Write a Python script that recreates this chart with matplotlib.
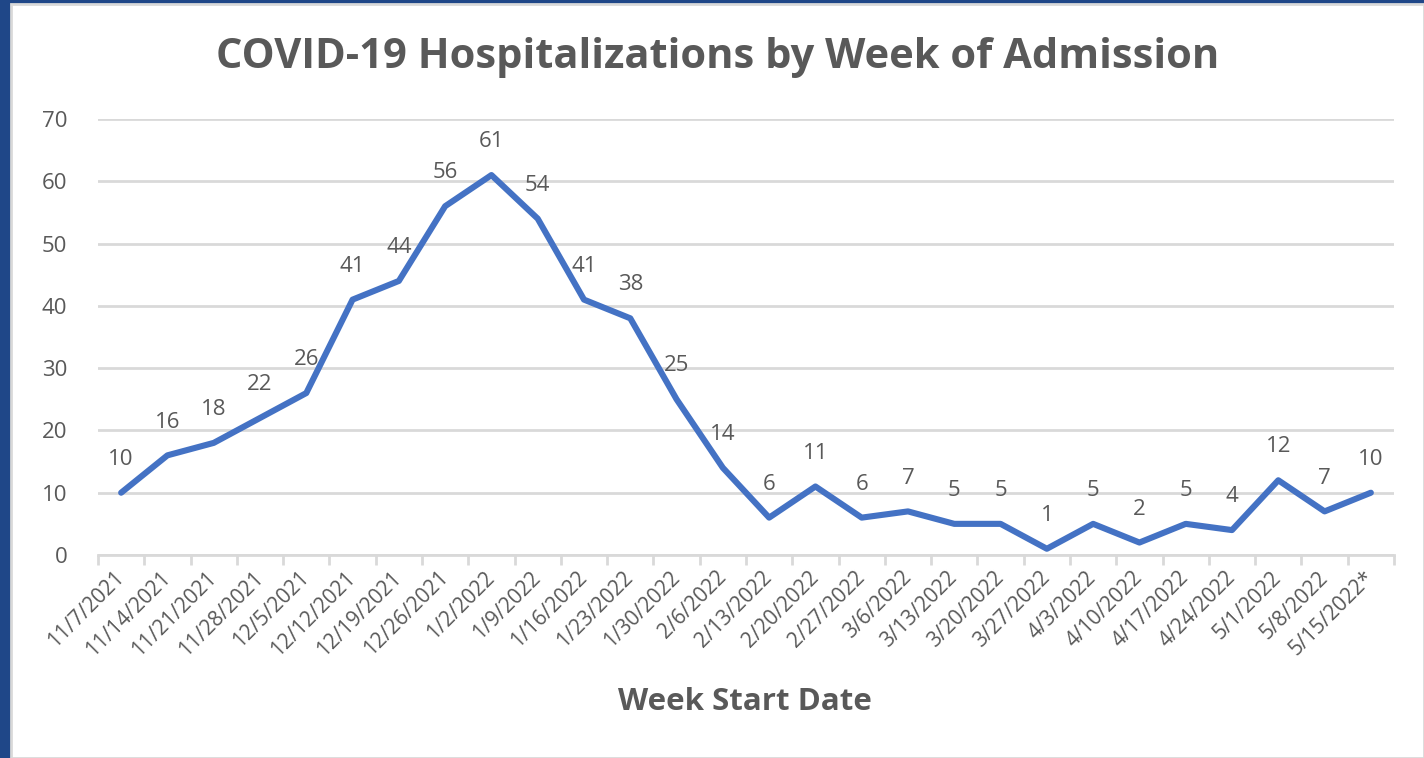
import matplotlib
matplotlib.use("Agg")
import matplotlib.pyplot as plt
from matplotlib.patches import Rectangle

weeks = ["11/7/2021", "11/14/2021", "11/21/2021", "11/28/2021", "12/5/2021",
         "12/12/2021", "12/19/2021", "12/26/2021", "1/2/2022", "1/9/2022",
         "1/16/2022", "1/23/2022", "1/30/2022", "2/6/2022", "2/13/2022",
         "2/20/2022", "2/27/2022", "3/6/2022", "3/13/2022", "3/20/2022",
         "3/27/2022", "4/3/2022", "4/10/2022", "4/17/2022", "4/24/2022",
         "5/1/2022", "5/8/2022", "5/15/2022*"]
hospitalizations = [10, 16, 18, 22, 26, 41, 44, 56, 61, 54, 41, 38, 25, 14,
                    6, 11, 6, 7, 5, 5, 1, 5, 2, 5, 4, 12, 7, 10]
y_ticks = [0, 10, 20, 30, 40, 50, 60, 70]

plt.rcParams['font.family'] = ['Open Sans', 'DejaVu Sans']
TXT = '#595959'
GRID = '#D9D9D9'
LINE = '#4472C4'

W, H = 1424, 758
fig = plt.figure(figsize=(W / 100, H / 100), dpi=100)
fig.patch.set_facecolor('#1F4788')

# white panel with light gray border
fig.patches.append(Rectangle((11 / W, 0), 1 - 11 / W, 1 - 4 / H, transform=fig.transFigure,
                             facecolor='white', edgecolor=GRID, linewidth=2, zorder=-10))

ax = fig.add_axes([98 / W, 1 - 555 / H, (1394 - 98) / W, (555 - 119) / H])
ax.set_facecolor('none')
x = list(range(len(weeks)))
ax.plot(x, hospitalizations, color=LINE, linewidth=4.4, solid_joinstyle='round',
        solid_capstyle='round', zorder=3)
for xi, v in zip(x, hospitalizations):
    ax.annotate(str(v), (xi, v), xytext=(0, 24), textcoords='offset points',
                ha='center', va='center', fontsize=16, color=TXT)

ax.set_xlim(-0.5, len(weeks) - 0.5)
ax.set_ylim(0, 70)
ax.set_yticks(y_ticks)
ax.set_yticklabels([str(t) for t in y_ticks], fontsize=16, color=TXT)
ax.tick_params(axis='y', length=0, pad=22)
ax.grid(axis='y', color=GRID, linewidth=2)
ax.set_axisbelow(True)

ax.set_xticks(x)
ax.set_xticklabels(weeks, rotation=45, ha='right', va='center', rotation_mode='anchor',
                   fontsize=15, color=TXT)
ax.set_xticks([i - 0.5 for i in range(len(weeks) + 1)], minor=True)
ax.tick_params(axis='x', which='major', length=0, pad=14)
ax.tick_params(axis='x', which='minor', length=7, width=2, color=GRID, direction='out')
for s in ['top', 'right', 'left']:
    ax.spines[s].set_visible(False)
ax.spines['bottom'].set_color(GRID)
ax.spines['bottom'].set_linewidth(2)

fig.text(718 / W, 1 - 57 / H, "COVID-19 Hospitalizations by Week of Admission",
         ha='center', va='center', fontsize=30, fontweight='bold', color=TXT)
fig.text(745 / W, 1 - 702 / H, "Week Start Date", ha='center', va='center',
         fontsize=22.5, fontweight='bold', color=TXT)

fig.savefig('out.png', dpi=100, facecolor=fig.get_facecolor())
